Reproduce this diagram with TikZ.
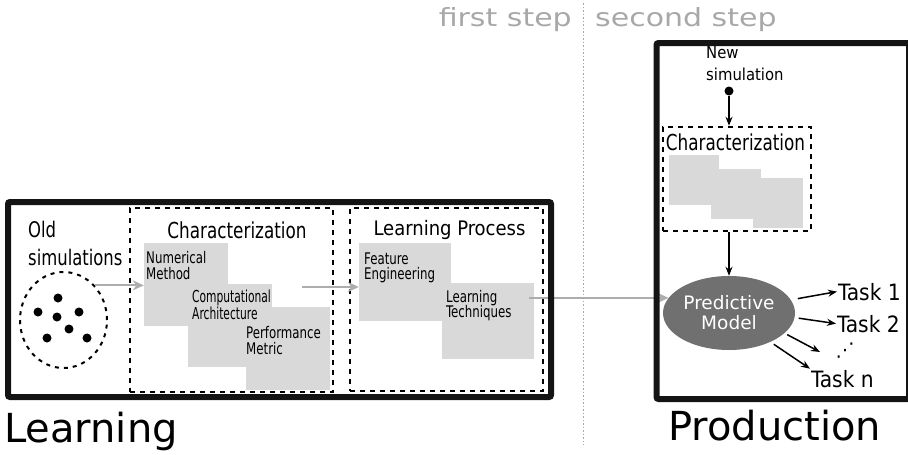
\documentclass[tikz,border=0pt]{standalone}
\usepackage{fontspec}
\setmainfont{DejaVu Sans}
\newfontfamily\condfont{DejaVu Sans Condensed}
\newfontfamily\narrowfont{DejaVu Sans Condensed}[FakeStretch=0.85]
\newfontfamily\labelfont{DejaVu Sans Condensed}[FakeStretch=0.82]
\newfontfamily\tightfont{DejaVu Sans Condensed}[FakeStretch=0.72]
\newfontfamily\widefont{DejaVu Sans}[FakeStretch=1.2]
\usetikzlibrary{arrows.meta,positioning,shapes.geometric}

\definecolor{partgray}{HTML}{D9D9D9}
\definecolor{flowgray}{HTML}{ADADAD}
\definecolor{modelgray}{HTML}{707070}
\definecolor{stepgray}{HTML}{A8A8A8}

\begin{document}
\begin{tikzpicture}[x=1pt,y=-1pt]

			\tikzstyle{stagebox}=[draw=black!92,line width=6pt,
				rounded corners=2pt,inner sep=0pt]
			\tikzstyle{groupbox}=[draw=black,line width=2.5pt,
				dash pattern=on 5pt off 5pt,inner sep=0pt]
			\tikzstyle{partbox}=[fill=partgray,inner sep=0pt,
				minimum width=84pt,minimum height=83pt]
			\tikzstyle{subpart}=[fill=partgray,inner sep=0pt,
				minimum width=50pt,minimum height=50pt]
			\tikzstyle{parttext}=[anchor=north west,inner sep=0pt,align=left,
				font=\labelfont\fontsize{16}{15.5}\selectfont]
			\tikzstyle{grouptitle}=[anchor=base,inner sep=0pt,
				font=\narrowfont\fontsize{22}{26}\selectfont]
			\tikzstyle{flowarrow}=[draw=flowgray,line width=2pt,
				-{Stealth[length=11pt,width=10pt]}]
			\tikzstyle{linkarrow}=[draw=black,line width=1.5pt,
				-{Stealth[length=9pt,width=7pt]}]
			\tikzstyle{tasktext}=[anchor=base west,inner sep=1pt,
				font=\condfont\fontsize{22.5}{22}\selectfont]
			\tikzstyle{stagename}=[anchor=base west,inner sep=0pt,
				font=\fontsize{40}{40}\selectfont]
			\tikzstyle{steptext}=[inner sep=0pt,text=stepgray,
				font=\widefont\fontsize{25}{25}\selectfont]

			\useasboundingbox (0,0) rectangle (908,455);

			% dashed groups
			\node[groupbox,minimum width=203pt,minimum height=184pt] (charbox) at (231.5,300) {};
			\node[groupbox,minimum width=193pt,minimum height=183pt] (procbox) at (446.5,299.5) {};
			\node[groupbox,minimum width=148pt,minimum height=104pt] (newchar) at (737,179) {};

			% old simulations
			\node[ellipse,draw,line width=2pt,dash pattern=on 4pt off 5pt,
				minimum width=87pt,minimum height=96pt] (cloud) at (63.5,320) {};
			\foreach \x/\y in {58/298,38/312,57/317,79/312,69/329,47/338,87/338}
				\fill (\x,\y) circle (4.5);
			\node[grouptitle,anchor=north west,align=left,
				font=\narrowfont\fontsize{21.5}{28}\selectfont] (oldsim) at (28,221) {Old\\simulations};

			\node[grouptitle] (chartitle) at (237,238) {Characterization};
			\node[grouptitle,font=\condfont\fontsize{20}{24}\selectfont] (proctitle) at (449.5,235) {Learning Process};

			% parts of the first step
			\node[partbox] (numbox)  at (186,284.5) {};
			\node[partbox] (archbox) at (229.5,325.5) {};
			\node[partbox] (perfbox) at (287.5,348.5) {};
			\node[partbox,minimum width=92pt,minimum height=78pt] (featbox) at (405,282) {};
			\node[partbox,minimum width=92pt,minimum height=76pt] (techbox) at (488,321) {};

			\node[parttext] (numtext)  at (146,251.5) {Numerical\\Method};
			\node[parttext,font=\tightfont\fontsize{16.5}{15.5}\selectfont] (archtext) at (192,290) {Computational\\Architecture};
			\node[parttext] (perftext) at (246,326.5) {Performance\\Metric};
			\node[parttext] (feattext) at (364,252.5) {Feature\\Engineering};
			\node[parttext] (techtext) at (446,290) {Learning\\Techniques};

			% second step
			\node[subpart] (sub1) at (693.5,180) {};
			\node[subpart] (sub2) at (736,193.5) {};
			\node[subpart] (sub3) at (778,202.5) {};
			\node[grouptitle] (newtitle) at (735.5,150) {Characterization};

			\node[parttext,font=\condfont\fontsize{16.5}{22}\selectfont] (newsim) at (706,46.5) {New\\simulation};
			\node[circle,fill,inner sep=0pt,minimum size=9pt] (newdot) at (729,91) {};

			\node[ellipse,fill=modelgray,text=white,align=center,inner sep=0pt,
				minimum width=132pt,minimum height=74pt,
				font=\fontsize{18.5}{20}\selectfont] (model) at (729,313) {Predictive\\Model};

			\node[tasktext] (task1) at (837,300) {Task 1};
			\node[tasktext] (task2) at (836,332) {Task 2};
			\node[tasktext] (taskn) at (810,387) {Task n};
			\node[inner sep=0pt,font=\fontsize{19}{19}\selectfont] (taskdots) at (845,351) {⋰};
			\coordinate (dotsend) at (820,352);

			% arrows
			\draw[flowarrow] (cloud.north east) -- (cloud.north east -| numbox.west);
			\coordinate (charout) at (302,287);
			\draw[flowarrow] (charout) -- (charout -| featbox.west);
			\draw[flowarrow] ([xshift=-5pt]techbox.east |- model.166) -- (model.166);

			\draw[linkarrow] (newdot) -- (newdot |- newchar.north);
			\draw[linkarrow] (model.north |- newchar.south) -- (model.north);
			\draw[linkarrow,shorten <=7pt] (model.12) -- (task1.west);
			\draw[linkarrow,shorten <=4pt] (model.-4) -- (task2.west);
			\draw[linkarrow,shorten <=3pt] (model.-20) -- (dotsend);
			\draw[linkarrow,shorten <=4pt] (model.-35) -- (taskn.north west);

			% step divider
			\coordinate (steptop) at (583,3);
			\coordinate (stepbottom) at (583,445);
			\draw[stepgray,line width=1pt,dash pattern=on 1.5pt off 2pt] (steptop) -- (stepbottom);
			\node[steptext,anchor=base east] (firststep) at (572,26.5) {first step};
			\node[steptext,anchor=base west] (secondstep) at (595,26.5) {second step};

			% stages
			\node[stagebox,minimum width=543pt,minimum height=195pt] (learning) at (279.5,299.5) {};
			\node[stagebox,minimum width=252.5pt,minimum height=356pt] (production) at (782.75,221) {};
			\node[stagename] (learnname) at (4,442) {Learning};
			\node[stagename] (prodname) at (668,440) {Production};

\end{tikzpicture}
\end{document}
